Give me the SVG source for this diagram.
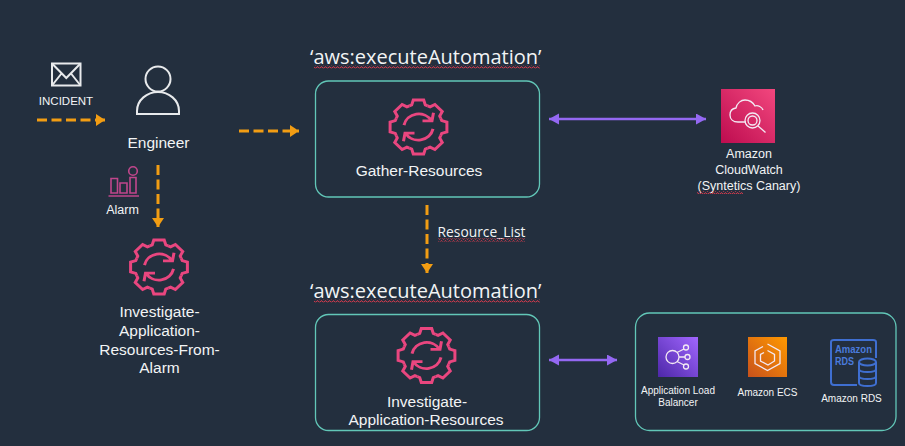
<svg xmlns="http://www.w3.org/2000/svg" width="905" height="446" viewBox="0 0 905 446">
<style>
text{font-family:"Liberation Sans",Arial,sans-serif;fill:#f2f4f5;text-anchor:middle}
.t16{font-size:15.500px}.t12{font-size:12.500px}.t11{font-size:10px}
.title{font-family:"Open Sans","Liberation Sans",sans-serif;font-size:20px;text-anchor:start}
.box{fill:none;stroke:#62c7b8;stroke-width:1.3}
.or{fill:none;stroke:#f29d13;stroke-width:3;stroke-dasharray:10 4.500}
.pu{fill:none;stroke:#9468f2;stroke-width:2.500}
.ln{fill:none;stroke:#e8eaec;stroke-width:2}
.pk{fill:none;stroke:#e9467f;stroke-width:3;stroke-linejoin:miter}
.wi{fill:none;stroke:#f3e9f3;stroke-width:1.3}
</style>
<defs>
<marker id="ao" markerUnits="userSpaceOnUse" markerWidth="10" markerHeight="12" refX="9" refY="6" orient="auto"><path d="M0 0L9 6L0 12Z" fill="#f29d13"/></marker>
<marker id="ap" markerUnits="userSpaceOnUse" markerWidth="11" markerHeight="12" refX="10" refY="5.500" orient="auto-start-reverse"><path d="M0 0L10 5.500L0 11Z" fill="#9468f2"/></marker>
<linearGradient id="gpink" x1="0" y1="1" x2="1" y2="0"><stop offset="0" stop-color="#bd0c4f"/><stop offset="1" stop-color="#f2477e"/></linearGradient>
<linearGradient id="gpur" x1="0" y1="1" x2="1" y2="0"><stop offset="0" stop-color="#4d27a8"/><stop offset="1" stop-color="#a166ff"/></linearGradient>
<linearGradient id="gorg" x1="0" y1="1" x2="1" y2="0"><stop offset="0" stop-color="#c8511b"/><stop offset="1" stop-color="#ff9900"/></linearGradient>
<path id="tooth" class="pk" d="M-9.2-22.2L-6.8-23.2L-5.2-28.4H5.2L6.800-23.200L9.200-22.200"/>
<g id="gear">
<use href="#tooth"/><use href="#tooth" transform="rotate(45)"/><use href="#tooth" transform="rotate(90)"/><use href="#tooth" transform="rotate(135)"/><use href="#tooth" transform="rotate(180)"/><use href="#tooth" transform="rotate(225)"/><use href="#tooth" transform="rotate(270)"/><use href="#tooth" transform="rotate(315)"/>
<path class="pk" d="M-14.500-2A15 15 0 0 1 13-6.500M4-6.500H13.500L15-15"/>
<path class="pk" d="M14.500 2A15 15 0 0 1-13 6.500M-4 6.500H-13.500L-15 15"/>
</g>
<pattern id="wave" width="4" height="3" patternUnits="userSpaceOnUse"><path d="M0 2.200L1 .8L2 .8L3 2.200L4 2.200" fill="none" stroke="#c8394a" stroke-width="1"/></pattern>
</defs>
<rect width="905" height="446" fill="#232f3e"/>

<g id="connectors">
<path class="or" d="M37 120H105" marker-end="url(#ao)"/>
<path class="or" d="M239 131H299" marker-end="url(#ao)"/>
<path class="or" d="M158 165V227" marker-end="url(#ao)"/>
<path class="or" d="M427 205V273" marker-end="url(#ao)"/>
<path class="pu" d="M549 119H706" marker-start="url(#ap)" marker-end="url(#ap)"/>
<path class="pu" d="M549 360H617" marker-start="url(#ap)" marker-end="url(#ap)"/>
</g>

<g id="incident">
<rect class="ln" x="52" y="63.500" width="28.500" height="22"/>
<path class="ln" d="M52 63.500L66.300 78L80.500 63.500M52 85.500L61.500 73.500M80.500 85.500L71 73.500"/>
<text x="66" y="105" style="font-size:11.500px">INCIDENT</text>
</g>
<g id="engineer">
<circle class="ln" cx="158" cy="79" r="12.500"/>
<path class="ln" d="M137 114V111C137 100 147 92 158 92S179 100 179 111V114Z"/>
<text class="t16" x="158.500" y="148">Engineer</text>
</g>
<g id="alarm">
<path d="M108.500 196H139M111 178.500H117.500V193H111ZM120 183H127V193H120ZM130 177.500H136V193H130Z" fill="none" stroke="#c0468c" stroke-width="1.600"/>
<circle cx="133" cy="171" r="4.300" fill="none" stroke="#c0468c" stroke-width="1.600"/>
<text x="122.500" y="214" style="font-size:12.500px">Alarm</text>
</g>
<g id="investigate-from-alarm">
<use href="#gear" transform="translate(159 267) scale(1 .95)"/>
<text class="t16" x="159.500" y="317">Investigate-</text>
<text class="t16" x="159.500" y="336">Application-</text>
<text class="t16" x="159.500" y="355">Resources-From-</text>
<text class="t16" x="159.500" y="373">Alarm</text>
</g>
<g id="gather-resources">
<text class="title" x="310" y="64">‘aws:executeAutomation’</text>
<rect x="314" y="65.500" width="226" height="3" fill="url(#wave)"/>
<rect class="box" x="315.500" y="81" width="224" height="116" rx="13"/>
<use href="#gear" transform="translate(418.500 127) scale(1 .95)"/>
<text class="t16" x="419" y="176">Gather-Resources</text>
</g>
<g id="resource-list">
<text x="481.500" y="237" style="font-family:'Open Sans','Liberation Sans',sans-serif;font-size:13.800px">Resource_List</text>
<rect x="438" y="238.500" width="87" height="3" fill="url(#wave)"/>
</g>
<g id="investigate-resources">
<text class="title" x="310" y="298">‘aws:executeAutomation’</text>
<rect x="314" y="299.500" width="226" height="3" fill="url(#wave)"/>
<rect class="box" x="315.500" y="314.500" width="224" height="116" rx="13"/>
<use href="#gear" transform="translate(426.500 355.500) scale(1 .95)"/>
<text class="t16" x="427" y="407">Investigate-</text>
<text class="t16" x="426" y="425">Application-Resources</text>
</g>
<g id="cloudwatch">
<rect x="721" y="89" width="54" height="54" fill="url(#gpink)"/>
<path class="wi" d="M746 122H738C733 122 730 119 730 115C730 111 732 108.500 736 108C737 103 741 100 745 100C750 100 753 102.500 755 106C758 105 762 107 763 110"/>
<circle class="wi" cx="752.500" cy="120.500" r="7.500"/><circle class="wi" cx="752.500" cy="120.500" r="4.500"/>
<path class="wi" d="M758 126L765.500 132.500" stroke-width="2"/>
<text class="t12" x="749" y="158">Amazon</text>
<text class="t12" x="749" y="174">CloudWatch</text>
<text class="t12" x="749" y="190">(Syntetics Canary)</text>
<rect x="697" y="191" width="46" height="3" fill="url(#wave)"/>
</g>
<g id="services">
<rect class="box" x="635.500" y="313" width="260.500" height="117.500" rx="14"/>
<g id="alb">
<rect x="658" y="337" width="40" height="40" fill="url(#gpur)"/>
<circle class="wi" cx="672.500" cy="357" r="6.500"/>
<circle class="wi" cx="686" cy="347.500" r="2.500"/><circle class="wi" cx="687.500" cy="357" r="2.500"/><circle class="wi" cx="686" cy="366.500" r="2.500"/>
<path class="wi" d="M677 352.500L684 349M679 357H685M677 361.500L684 365"/>
<text class="t11" x="678" y="394">Application Load</text>
<text class="t11" x="678" y="406">Balancer</text>
</g>
<g id="ecs">
<rect x="748" y="337" width="39" height="40" fill="url(#gorg)"/>
<path class="wi" d="M767.500 344L780 351V363.500L767.500 370.500L755 363.500V351L763 346.500" stroke="#fbe3c8"/>
<path class="wi" d="M767.500 350.500L774.500 354.500V361L768 365L760.500 361V354.500L764 352.500" stroke="#fbe3c8"/>
<text class="t11" x="767.500" y="396">Amazon ECS</text>
</g>
<g id="rds">
<path d="M857 385H834Q831 385 831 382V342Q831 340 834 340H873Q876 340 876 342V358" fill="none" stroke="#3f6fd1" stroke-width="2"/>
<text x="835" y="353" textLength="37" lengthAdjust="spacingAndGlyphs" style="font-size:10.500px;font-weight:bold;fill:#4a7bdc;text-anchor:start">Amazon</text>
<text x="835" y="365" textLength="19" lengthAdjust="spacingAndGlyphs" style="font-size:10.500px;font-weight:bold;fill:#4a7bdc;text-anchor:start">RDS</text>
<path d="M859 362V383C859 387 876 387 876 383V362M859 369C859 373 876 373 876 369M859 376C859 380 876 380 876 376" fill="#232f3e" stroke="#3f6fd1" stroke-width="2"/>
<ellipse cx="867.500" cy="362" rx="8.500" ry="3.500" fill="#232f3e" stroke="#3f6fd1" stroke-width="2"/>
<text class="t11" x="851.500" y="402">Amazon RDS</text>
</g>
</g>
</svg>
